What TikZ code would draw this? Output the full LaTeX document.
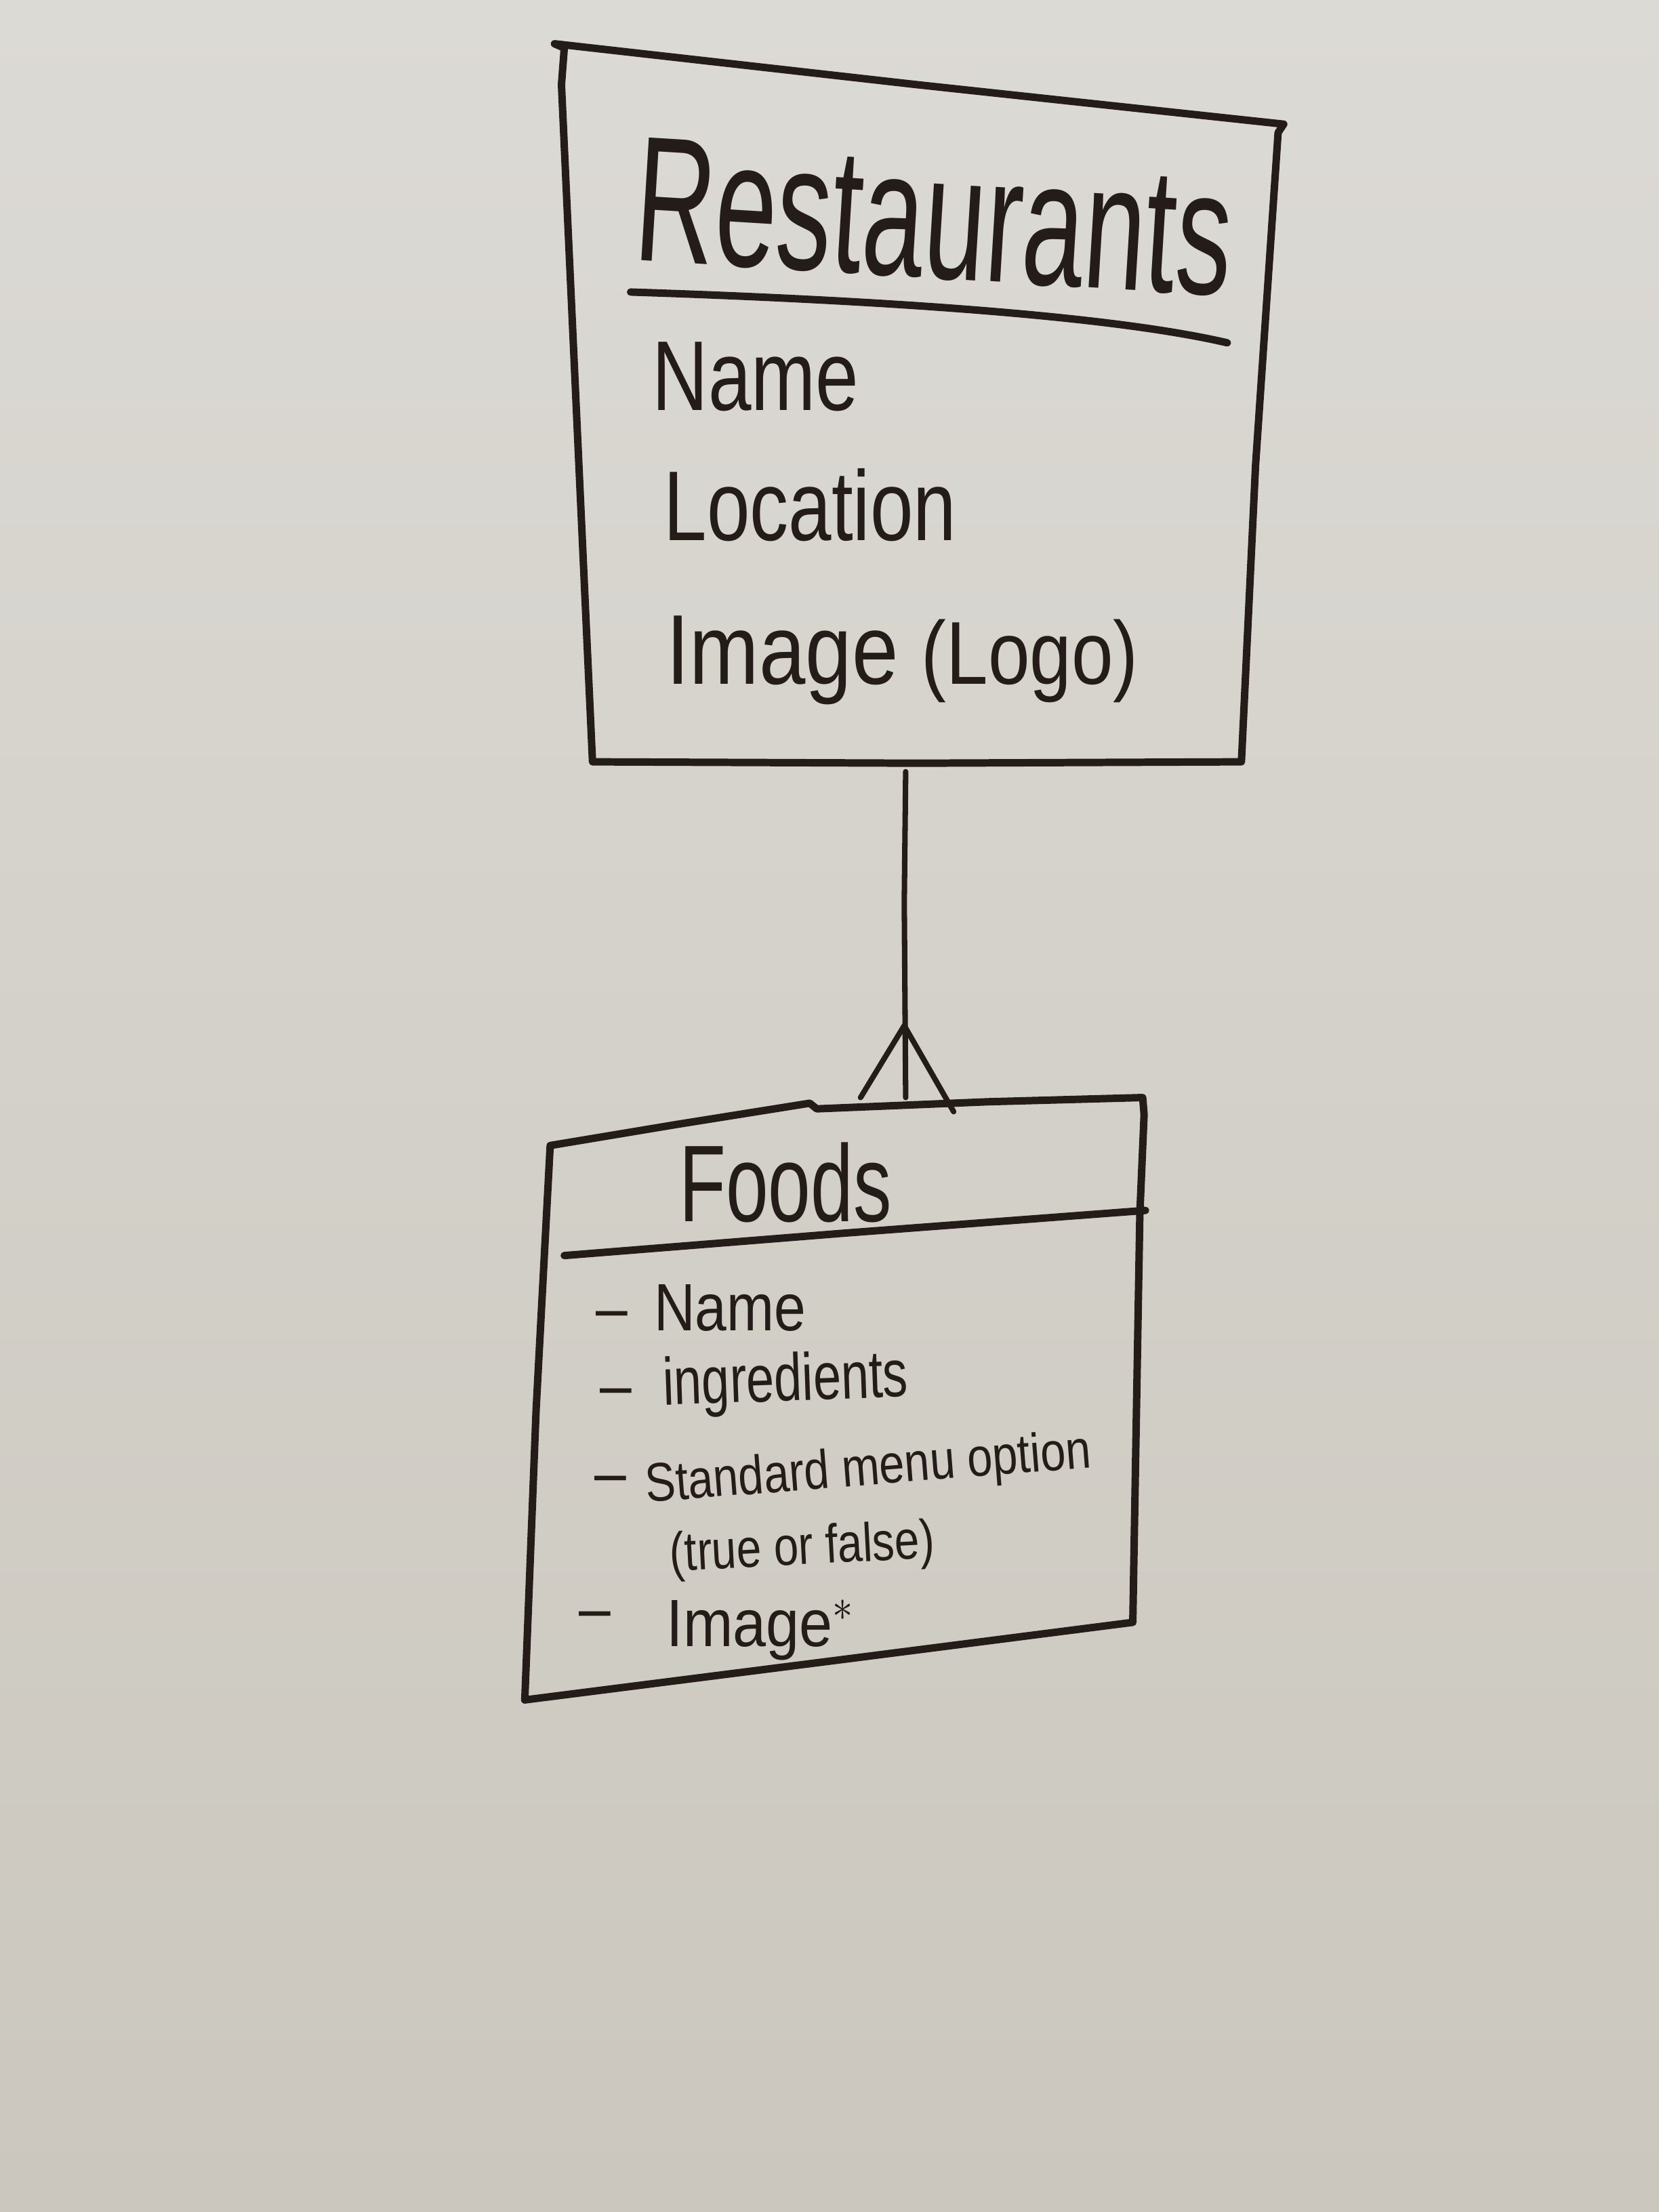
\documentclass[tikz,border=0pt]{standalone}
\usepackage{fontspec}
\setmainfont{Liberation Sans}
\definecolor{ink}{HTML}{241C18}
\definecolor{boardtop}{HTML}{DCDAD5}
\definecolor{boardbot}{HTML}{CBC7BE}
\begin{document}
\begin{tikzpicture}[x=0.01cm,y=-0.01cm,
  pen/.style={draw=ink, line width=1.5pt, line cap=round, line join=round},
  thinpen/.style={draw=ink, line width=1.1pt, line cap=round, line join=round},
  hand/.style={text=ink, inner sep=0pt, anchor=base west},
  title/.style={hand, xscale=0.62, font=\fontsize{36}{36}\selectfont},
  field/.style={hand, xscale=0.78, font=\fontsize{20}{20}\selectfont},
  item/.style={hand, xscale=0.85, font=\fontsize{13.5}{13.5}\selectfont},
  smallitem/.style={hand, xscale=0.8, font=\fontsize{11}{11}\selectfont},
]
% whiteboard
\shade[top color=boardtop, bottom color=boardbot] (0,0) rectangle (1176,1568);
\useasboundingbox (0,0) rectangle (1176,1568);

% ---- Restaurants entity ----
\draw[pen] (393,31) -- (400,34) -- (398,60) -- (420,540) -- (650,541) -- (880,540)
  -- (890,330) -- (906,94) -- (910,88) -- (650,60) -- cycle;
\node[rotate=-3.5, title] (rtitle) at (448,184) {Restaurants};
\draw[pen] (447,207) .. controls (600,212) and (780,222) .. (870,243);
\node[field] (rname) at (462,291) {Name};
\node[field] (rloc) at (470,383) {Location};
\node[hand, xscale=0.84, font=\fontsize{20}{20}\selectfont] (rimg) at (472,485)
  {Image {\fontsize{18}{18}\selectfont(Logo)}};

% ---- one-to-many connector ----
\coordinate (rb) at (642,547);
\coordinate (ft) at (642,778);
\coordinate (fork) at (641,727);
\coordinate (footL) at (610,778);
\coordinate (footR) at (676,788);
\draw[thinpen] (rb) -- (641,640) -- (ft);
\draw[thinpen] (footL) -- (fork) -- (footR);

% ---- Foods entity ----
\draw[pen] (390,812) -- (480,797) -- (574,782) -- (579,786) -- (700,781) -- (810,778)
  -- (811,790) -- (808,860) -- (803,1150) -- (600,1176) -- (372,1205) -- (380,1000) -- cycle;
\draw[pen] (400,890) -- (600,874) -- (812,858);
\node[hand, xscale=0.7, font=\fontsize{22}{22}\selectfont] (ftitle) at (481,866) {Foods};

\node[item] (d1) at (422,943) {–};
\node[item] (fname) at (463,943) {Name};
\node[item] (d2) at (425,998) {–};
\node[rotate=2, item, xscale=0.88] (fing) at (470,996) {ingredients};
\node[item] (d3) at (421,1060) {–};
\node[rotate=4.5, smallitem, xscale=1.04] (fstd) at (458,1065) {Standard menu option};
\node[rotate=3, smallitem, xscale=1.02] (fbool) at (475,1114) {(true or false)};
\node[item] (d4) at (410,1156) {–};
\node[item, xscale=1.05] (fimg) at (472,1167) {Image$^{*}$};
\end{tikzpicture}
\end{document}
